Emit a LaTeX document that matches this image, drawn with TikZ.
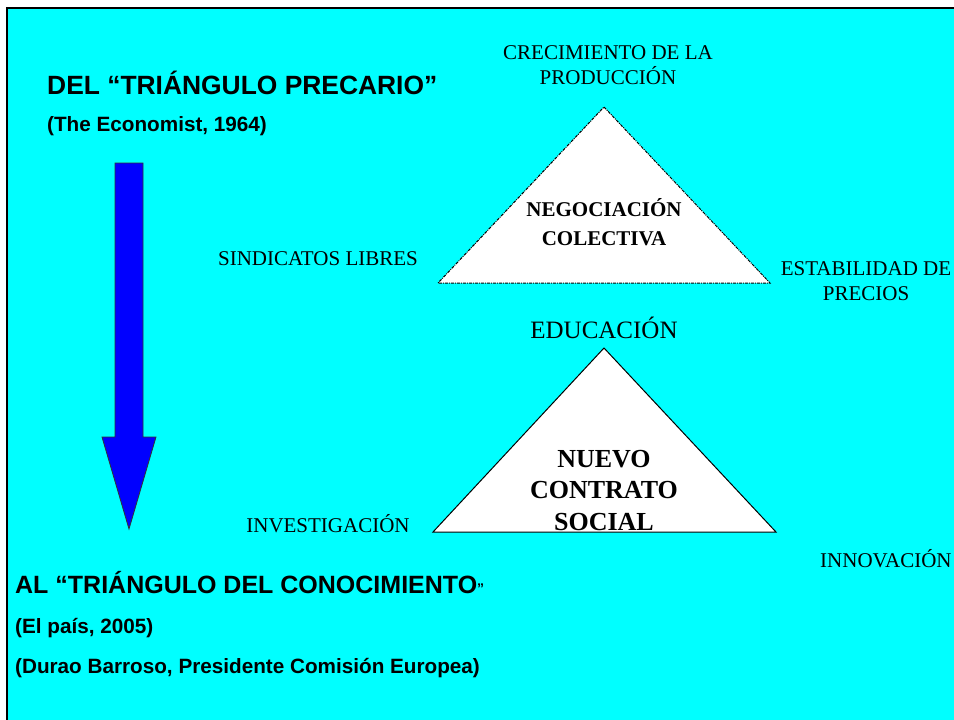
\documentclass[tikz,border=0pt]{standalone}
\usepackage{fontspec}
\setmainfont{Liberation Serif}
\newfontfamily\arialfont{Liberation Sans}
\usetikzlibrary{positioning}
\definecolor{slidebg}{RGB}{0,255,255}

\tikzset{
  heading/.style={anchor=base west, inner sep=0pt, font=\arialfont\bfseries\fontsize{25}{30}\selectfont},
  source/.style={anchor=base west, inner sep=0pt, font=\arialfont\bfseries\fontsize{20.7}{25}\selectfont},
  corner/.style={anchor=base, inner sep=0pt, align=center, font=\fontsize{21}{24.5}\selectfont},
  core/.style={anchor=base, inner sep=0pt, align=center, font=\bfseries\fontsize{21}{29}\selectfont},
}

\begin{document}
\begin{tikzpicture}[x=1pt,y=-1pt]
  \useasboundingbox (0,0) rectangle (954,720);
  \fill[slidebg] (7,8) rectangle (954,720);
  \draw[line width=2pt] (7,720) -- (7,8) -- (954,8);

  % headings
  \node[heading, font=\arialfont\bfseries\fontsize{26.4}{30}\selectfont] (from) at (47,94) {DEL “TRIÁNGULO PRECARIO”};
  \node[source] (economist) at (47,131) {(The Economist, 1964)};
  \node[heading] (to) at (15,593) {AL “TRIÁNGULO DEL CONOCIMIENTO{\fontsize{14}{16}\selectfont ”}};
  \node[source] (pais) at (15,633) {(El país, 2005)};
  \node[source] (barroso) at (15,673) {(Durao Barroso, Presidente Comisión Europea)};

  % arrow
  \draw[fill=blue, draw=black!80, line width=0.8pt] (115,163) -- (143,163) -- (143,437) -- (156,437)
    -- (129,529) -- (102,437) -- (115,437) -- cycle;

  % triangles
  \draw[fill=white, line width=1pt, dash pattern=on 3pt off 1pt on 1pt off 1pt] (604,107) -- (770,283) -- (438,283) -- cycle;
  \draw[fill=white, line width=1pt] (604,348) -- (776,532) -- (433,532) -- cycle;

  % old triangle (base = last line)
  \node[corner] (growth) at (608,84) {CRECIMIENTO DE LA\\PRODUCCIÓN};
  \node[corner] (unions) at (318,265) {SINDICATOS LIBRES};
  \node[corner] (prices) at (866,300) {ESTABILIDAD DE\\PRECIOS};
  \node[core] (bargain) at (604,245) {NEGOCIACIÓN\\COLECTIVA};

  % new triangle
  \node[corner, font=\fontsize{25}{30}\selectfont] (educ) at (604,338) {EDUCACIÓN};
  \node[core, font=\bfseries\fontsize{26}{31.5}\selectfont] (contract) at (604,530) {NUEVO\\CONTRATO\\SOCIAL};
  \node[corner] (research) at (328,532) {INVESTIGACIÓN};
  \node[corner, anchor=base west] (innov) at (820,567) {INNOVACIÓN};
\end{tikzpicture}
\end{document}
